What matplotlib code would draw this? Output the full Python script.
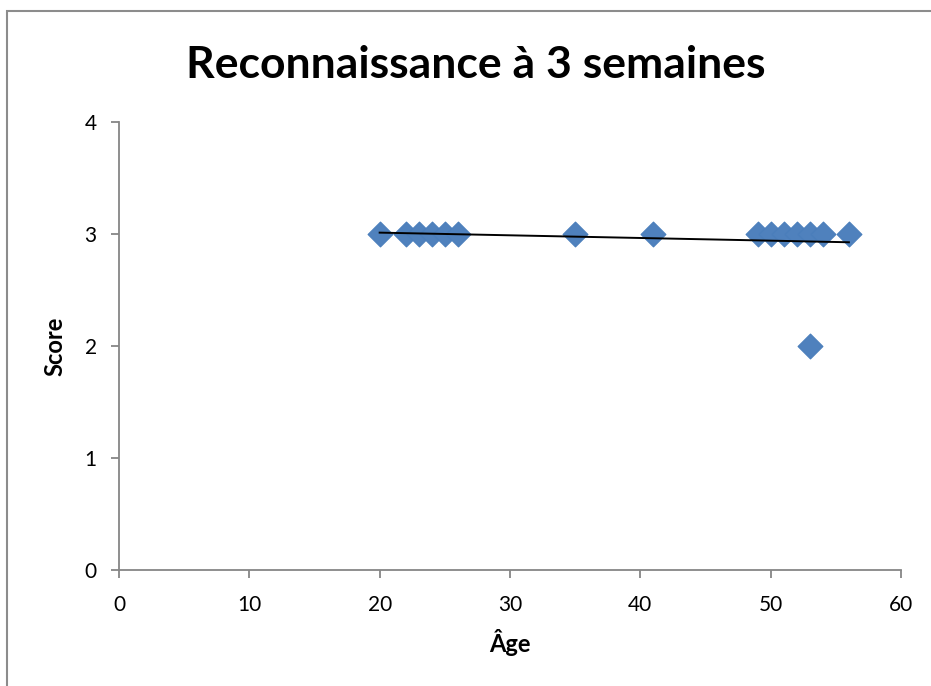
import matplotlib.pyplot as plt
import matplotlib.patches as patches

# donnees
ages = [20, 22, 23, 24, 25, 26, 35, 41, 49, 50, 51, 52, 53, 54, 56, 53]
scores = [3, 3, 3, 3, 3, 3, 3, 3, 3, 3, 3, 3, 3, 3, 3, 2]
trend_x = [20, 56]
trend_y = [3.012, 2.926]

plt.rcParams['font.family'] = ['Lato', 'DejaVu Sans']

fig = plt.figure(figsize=(9.31, 6.86), dpi=100)
ax = fig.add_axes([0.1278, 0.1691, 0.84, 0.6531])

# cadre gris du graphique (coupe a droite et en bas)
fig.patches.append(patches.Rectangle((6.5 / 931, -0.01), 1.0, 1 - 10.5 / 686 + 0.01,
                                     transform=fig.transFigure, fill=False,
                                     edgecolor='#8c8c8c', lw=1.5))

ax.scatter(ages, scores, marker='D', s=160, color='#4f81bd', edgecolor='#4a7ebb',
           linewidths=0.8, zorder=2)
ax.plot(trend_x, trend_y, color='black', lw=1.4, zorder=3)

ax.set_xlim(0, 60)
ax.set_ylim(0, 4)
ax.set_xticks(range(0, 61, 10))
ax.set_yticks(range(0, 5))

for s in ['top', 'right']:
    ax.spines[s].set_visible(False)
for s in ['left', 'bottom']:
    ax.spines[s].set_color('#868686')
    ax.spines[s].set_linewidth(1.3)
ax.tick_params(colors='#868686', length=6, width=1.3, labelcolor='black', labelsize=15)
ax.tick_params(axis='x', pad=12)
ax.tick_params(axis='y', pad=10)

# titre centre sur le cadre, pas sur les axes
ax.set_title('Reconnaissance à 3 semaines', fontsize=32, fontweight='bold', pad=32, x=0.4565)
ax.set_xlabel('Âge', fontsize=17, fontweight='bold', labelpad=10)
ax.set_ylabel('Score', fontsize=17, fontweight='bold', labelpad=13)

fig.savefig('out.png', dpi=100)
